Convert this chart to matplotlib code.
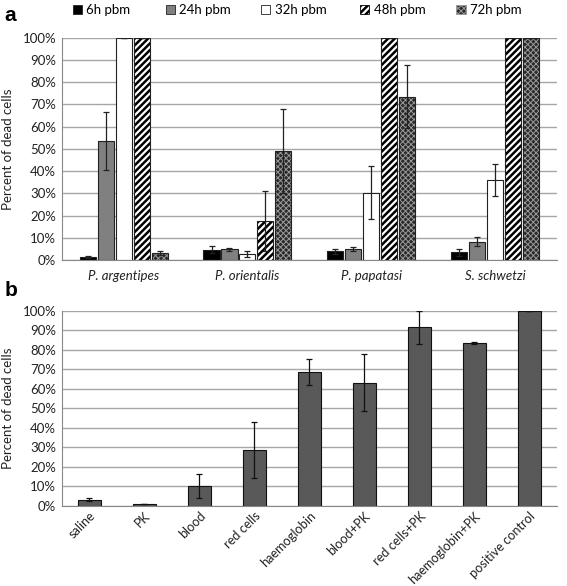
import matplotlib
matplotlib.use("Agg")
import matplotlib.pyplot as plt
import numpy as np

plt.rcParams["font.family"] = ["Lato", "DejaVu Sans"]
plt.rcParams["hatch.linewidth"] = 1.8

# Painel a: espécies x tempo pós-repasto
especies = ["P. argentipes", "P. orientalis", "P. papatasi", "S. schwetzi"]
series = ["6h pbm", "24h pbm", "32h pbm", "48h pbm", "72h pbm"]
valores_a = [
    [1.5, 4.7, 4.0, 3.5],
    [53.5, 4.8, 5.0, 8.2],
    [100, 2.7, 30.3, 36.0],
    [100, 17.5, 100, 100],
    [3.2, 49.0, 73.5, 100],
]
erros_a = [
    [0.5, 1.5, 1.2, 1.5],
    [13.2, 0.8, 0.8, 2.0],
    [0, 1.3, 12.0, 7.0],
    [0, 13.5, 0, 0],
    [0.8, 19.0, 14.0, 0],
]

# Painel b: tratamentos
tratamentos = ["saline", "PK", "blood", "red cells", "haemoglobin",
               "blood+PK", "red cells+PK", "haemoglobin+PK", "positive control"]
valores_b = [3.0, 1.0, 10.0, 28.5, 68.5, 63.0, 91.5, 83.5, 100]
erros_b = [0.7, 0, 6.0, 14.5, 6.5, 14.5, 8.5, 0.4, 0]

# cor de fundo, cor da hachura, hachura, espessura da hachura
estilos = [
    ("black", "#222222", None, 1.8),
    ("#808080", "#222222", None, 1.8),
    ("white", "#222222", None, 1.8),
    ("white", "black", "/////", 1.8),
    ("#2a2a2a", "#9a9a9a", "xxxxxx", 0.7),
]
LEG_X = [0.128, 0.292, 0.46, 0.635, 0.805]

GRADE = "#a6a6a6"


def formatar_eixo(ax):
    ax.set_ylim(0, 100)
    ax.set_yticks(np.arange(0, 101, 10))
    ax.set_yticklabels([f"{v}%" for v in range(0, 101, 10)], fontsize=9.5)
    ax.yaxis.grid(True, color=GRADE, linewidth=1)
    ax.set_axisbelow(True)
    for lado in ["top", "right"]:
        ax.spines[lado].set_visible(False)
    ax.spines["left"].set_color("#888888")
    ax.spines["bottom"].set_color("#888888")
    ax.tick_params(axis="y", length=0, pad=4, colors="#222222")
    ax.tick_params(axis="x", length=0)
    ax.set_ylabel("Percent of dead cells", fontsize=9.5, color="#222222", labelpad=6)


fig = plt.figure(figsize=(5.67, 5.86), dpi=100)

ax_a = fig.add_axes([0.109, 0.556, 0.873, 0.380])
x = np.arange(len(especies))
largura = 0.13
passo = 0.145
for i, nome in enumerate(series):
    pos = x + (i - 2) * passo
    face, cor_hachura, hachura, esp = estilos[i]
    with plt.rc_context({"hatch.linewidth": esp}):
        # preenchimento + hachura
        b = ax_a.bar(pos, valores_a[i], largura, color=face, hatch=hachura,
                     edgecolor=cor_hachura, linewidth=0, label=nome)
        # contorno
        ax_a.bar(pos, valores_a[i], largura, fill=False, edgecolor="#222222", linewidth=0.8)
        ax_a.errorbar(pos, valores_a[i], yerr=erros_a[i], fmt="none", ecolor="#222222",
                      elinewidth=0.9, capsize=2.5, capthick=0.9)
        leg = fig.legend(handles=[b], loc="upper left", bbox_to_anchor=(LEG_X[i], 0.993),
                         frameon=False, fontsize=9.5, handlelength=0.7, handleheight=0.7,
                         handletextpad=0.35, borderpad=0, borderaxespad=0)
    leg.legend_handles[0].set_linewidth(0.6)
ax_a.set_xlim(-0.5, len(especies) - 0.5)
formatar_eixo(ax_a)
ax_a.set_xticks(x)
ax_a.set_xticklabels(especies, fontsize=9.5, style="italic", color="#222222")
ax_a.tick_params(axis="x", pad=7)

ax_b = fig.add_axes([0.109, 0.137, 0.873, 0.333])
xb = np.arange(len(tratamentos))
ax_b.bar(xb, valores_b, 0.42, color="#595959", edgecolor="#111111", linewidth=0.8)
ax_b.errorbar(xb, valores_b, yerr=erros_b, fmt="none", ecolor="#111111",
              elinewidth=0.9, capsize=2.5, capthick=0.9)
ax_b.set_xlim(-0.5, len(tratamentos) - 0.5)
formatar_eixo(ax_b)
ax_b.set_xticks(xb)
ax_b.set_xticklabels(tratamentos, fontsize=9.2, rotation=45, ha="right",
                     rotation_mode="anchor", color="#222222")
ax_b.tick_params(axis="x", pad=3)

fig.text(0.008, 0.99, "a", fontsize=15, fontweight="bold", family="Liberation Sans", va="top")
fig.text(0.008, 0.52, "b", fontsize=15, fontweight="bold", family="Liberation Sans", va="top")

fig.savefig("out.png", dpi=100)
